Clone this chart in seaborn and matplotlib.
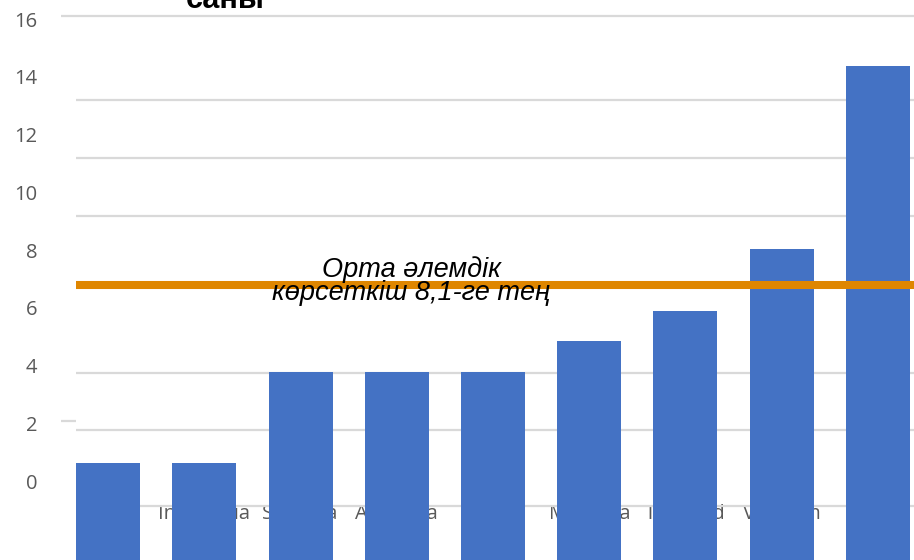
import matplotlib
matplotlib.use('Agg')
import matplotlib.pyplot as plt
import seaborn as sns
import pandas as pd

sns.set_theme(style='white')
plt.rcParams['font.family'] = ['Open Sans', 'DejaVu Sans']

# data
countries = ['Japan', 'Indonesia', 'Slovakia', 'Australia', 'India',
             'Malaysia', 'Thailand', 'Vietnam', 'Korea']
values = [1, 1, 4, 4, 4, 5, 6, 8, 14]
avg_level = 6.84
avg_text = 'Орта әлемдік\nкөрсеткіш 8,1-ге тең'
title_text = 'саны'
ytick_values = list(range(0, 17, 2))
grid_levels = [12.9, 11.0, 9.1, 3.95, 2.08, -0.41]
top_grid = 15.66

bar_color = '#4472C4'
avg_color = '#DF8600'
grid_color = '#D9D9D9'
text_gray = '#595959'

df = pd.DataFrame({'country': countries, 'value': values})

fig = plt.figure(figsize=(9.14, 5.6), dpi=100)
ax = fig.add_axes([61 / 914, 0, 1 - 61 / 914, 1])

bar_w = 0.665
y_bottom, y_top = -2.18, 16.18
sns.barplot(data=df, x='country', y='value', color=bar_color, saturation=1,
            width=bar_w, ax=ax, zorder=3)
# bars run down past the baseline to the bottom edge
for p in ax.patches:
    h = p.get_height()
    p.set_y(y_bottom)
    p.set_height(h - y_bottom)
    p.set_edgecolor('none')

ax.set_xlim(-0.49, 8.375)
ax.set_ylim(y_bottom, y_top)
ax.set_axisbelow(True)

left_edge = -bar_w / 2
ax.hlines(top_grid, -0.49, 8.375, color=grid_color, lw=1.6, zorder=1)
ax.hlines(grid_levels, left_edge, 8.375, color=grid_color, lw=1.6, zorder=1)
ax.hlines(2.38, -0.49, left_edge, color=grid_color, lw=1.6, zorder=1)

ax.hlines(avg_level, left_edge, 8.375, color=avg_color, lw=5.8, zorder=4)
ax.text(3.15, 6.98, avg_text, ha='center', va='center', fontsize=19.5,
        style='italic', family=['Liberation Sans', 'DejaVu Sans'],
        color='black', linespacing=0.85, zorder=5)

ax.set_xlabel('')
ax.set_ylabel('')
ax.set_yticks([])
ax.tick_params(axis='x', length=0, pad=-40, labelsize=14.5,
               labelcolor=text_gray)
for s in ax.spines.values():
    s.set_visible(False)

# value axis labels
ax2 = ax.twinx()
ax2.set_ylim(-2.736, 16.66)
ax2.set_yticks(ytick_values)
ax2.yaxis.tick_left()
ax2.tick_params(axis='y', length=0, pad=17, labelsize=14.5,
                labelcolor=text_gray)
for s in ax2.spines.values():
    s.set_visible(False)

fig.text(225 / 914, 1 - 8 / 560, title_text, ha='center', va='baseline',
         fontsize=22, weight='bold', color='black',
         family=['Liberation Sans', 'DejaVu Sans'])

fig.savefig('out.png', dpi=100, facecolor='white')
